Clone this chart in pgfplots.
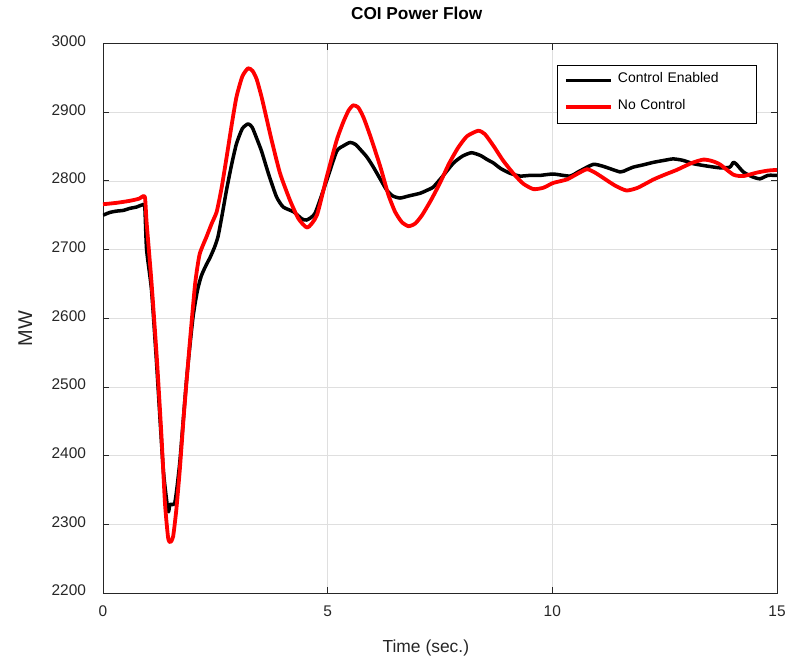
\documentclass[border=0pt]{standalone}
\usepackage{fontspec}
\setmainfont{Liberation Sans}
\usepackage{pgfplots}
\pgfplotsset{compat=1.18}
\definecolor{axcol}{RGB}{38,38,38}
\definecolor{gridcol}{RGB}{223,223,223}
\begin{document}
\begin{tikzpicture}
\useasboundingbox (-103bp,-63bp) rectangle (685bp,593bp);
\begin{axis}[
  at={(0,0)}, anchor=south west,
  scale only axis, width=674bp, height=549.5bp,
  xmin=0, xmax=15, ymin=2200, ymax=3000,
  xtick={0,5,10,15}, ytick={2200,2300,...,3000},
  scaled y ticks=false, scaled x ticks=false,
  /pgf/number format/1000 sep={},
  /pgf/number format/assume math mode=true,
  tick align=inside, xtick pos=both, ytick pos=both,
  xticklabel pos=lower, yticklabel pos=left,
  major tick length=6.5bp,
  tick style={axcol, line width=0.8bp},
  axis line style={axcol, line width=0.8bp},
  grid=major,
  major grid style={gridcol, line width=0.6bp},
  ticklabel style={font=\fontsize{15.5}{18}\selectfont, text=axcol},
  xticklabel style={yshift=-9bp},
  yticklabel style={xshift=-13.5bp, yshift=2.5bp},
  title={COI Power Flow},
  title style={font=\bfseries\fontsize{17.3}{20}\selectfont, at={(axis description cs:0.4654,1)}, anchor=base, yshift=18.3bp},
  xlabel={Time (sec.)},
  xlabel style={font=\fontsize{17.5}{20}\selectfont, text=axcol, at={(axis description cs:0.479,0)}, anchor=base, yshift=-59.7bp},
  ylabel={MW},
  ylabel style={font=\fontsize{20}{24}\selectfont, text=axcol, at={(axis description cs:-0.1053,0.4817)}, anchor=base, rotate=0},
  legend image code/.code={\draw[#1] (0bp,2.3bp) -- (45bp,2.3bp);},
  legend style={at={(1,1)}, anchor=north east, xshift=-20bp, yshift=-21.7bp,
    draw=black, line width=0.7bp, fill=white,
    inner xsep=6.7bp, inner ysep=2.15bp, row sep=0pt, column sep=5.3bp,
    font=\fontsize{14}{16}\selectfont,
    cells={anchor=base west},
    nodes={inner sep=0pt, text height=15.15bp, text depth=11.55bp, text width=132bp, align=left}},
]
\addplot[black, line width=3.5bp, line join=round, smooth, tension=0.35] coordinates {
(0,2750) (0.15,2754) (0.3,2756) (0.45,2757) (0.6,2760) (0.75,2762) (0.87,2765) (0.93,2762)
(0.97,2700) (1.08,2641) (1.19,2537) (1.34,2381) (1.45,2319) (1.49,2329) (1.60,2332)
(1.71,2391) (1.86,2511) (2.0,2600) (2.1,2640) (2.19,2662) (2.3,2678) (2.38,2688)
(2.48,2703) (2.56,2719) (2.65,2750) (2.75,2787) (2.86,2823) (2.97,2854) (3.10,2876)
(3.23,2883) (3.32,2878) (3.42,2862) (3.53,2843) (3.68,2811) (3.86,2777) (4.01,2762)
(4.24,2755) (4.42,2745) (4.53,2743) (4.72,2753) (4.98,2801) (5.20,2843) (5.35,2851)
(5.50,2856) (5.62,2853) (5.75,2844) (5.87,2835) (6.0,2822) (6.15,2805) (6.31,2787)
(6.45,2778) (6.61,2775) (6.8,2778) (7.06,2782) (7.2,2786) (7.35,2791) (7.55,2806)
(7.80,2826) (8.0,2836) (8.20,2841) (8.4,2837) (8.55,2831) (8.69,2826) (8.85,2818)
(9.06,2811) (9.28,2807) (9.5,2808) (9.73,2808) (10.02,2810) (10.39,2807) (10.6,2814)
(10.91,2824) (11.14,2821) (11.51,2813) (11.65,2816) (11.80,2820) (12.0,2823) (12.25,2827)
(12.5,2830) (12.69,2832) (12.9,2830) (13.14,2825) (13.4,2822) (13.73,2819) (13.95,2820)
(14.03,2827) (14.1,2824) (14.25,2813) (14.45,2806) (14.62,2803) (14.8,2808) (15.0,2808)
};
\addlegendentry{Control Enabled}
\addplot[red, line width=3.8bp, line join=round, smooth, tension=0.35] coordinates {
(0,2766) (0.3,2768) (0.6,2771) (0.8,2774) (0.93,2777) (0.97,2740) (1.08,2652) (1.2,2540)
(1.3,2430) (1.38,2330) (1.45,2280) (1.5,2274) (1.56,2282) (1.63,2320) (1.71,2380)
(1.8,2460) (1.93,2563) (2.05,2650) (2.15,2693) (2.30,2718) (2.42,2738) (2.53,2755)
(2.64,2790) (2.75,2834) (2.86,2880) (2.97,2922) (3.10,2952) (3.23,2964) (3.33,2960)
(3.42,2948) (3.53,2922) (3.64,2891) (3.75,2860) (3.94,2811) (4.16,2772) (4.35,2745)
(4.55,2732) (4.76,2750) (4.98,2806) (5.20,2859) (5.35,2886) (5.47,2903) (5.57,2910)
(5.68,2907) (5.8,2892) (5.95,2865) (6.17,2821) (6.35,2780) (6.5,2755) (6.65,2740)
(6.80,2734) (6.95,2738) (7.1,2750) (7.3,2772) (7.50,2797) (7.7,2825) (7.9,2848)
(8.1,2865) (8.35,2873) (8.5,2868) (8.7,2850) (8.9,2830) (9.13,2811) (9.35,2796)
(9.58,2788) (9.8,2790) (10.02,2797) (10.32,2802) (10.55,2810) (10.77,2817) (10.95,2812)
(11.14,2804) (11.4,2793) (11.65,2786) (11.9,2790) (12.25,2802) (12.5,2809) (12.77,2816)
(13.1,2826) (13.36,2831) (13.55,2829) (13.73,2824) (14.03,2809) (14.25,2807) (14.55,2812)
(14.8,2815) (15.0,2816)
};
\addlegendentry{No Control}
\end{axis}
\end{tikzpicture}
\end{document}
